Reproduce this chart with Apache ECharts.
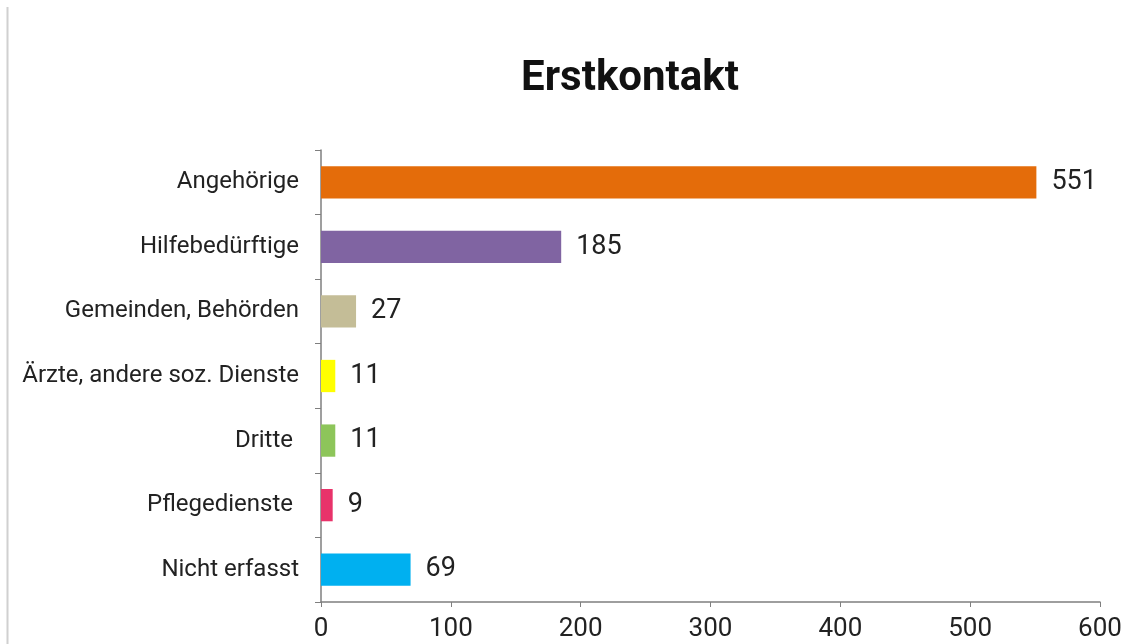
<!DOCTYPE html>
<html>
<head>
<meta charset="utf-8">
<script src="https://cdn.jsdelivr.net/npm/echarts@6/dist/echarts.min.js"></script>
<style>
  html, body { margin: 0; padding: 0; background: #ffffff; }
  #chart { width: 1139px; height: 644px; }
</style>
</head>
<body>
<div id="chart"></div>
<script>
// Who made the first contact
const categories = [
  'Angehörige',
  'Hilfebedürftige',
  'Gemeinden, Behörden',
  'Ärzte, andere soz. Dienste',
  'Dritte ',
  'Pflegedienste ',
  'Nicht erfasst'
];
const counts = [551, 185, 27, 11, 11, 9, 69];
const barColors = ['#E46C0A', '#8064A2', '#C4BD97', '#FFFF00', '#8DC55A', '#E8336A', '#00B0F0'];
const xTicks = [0, 100, 200, 300, 400, 500, 600];
const chartTitle = 'Erstkontakt';

const chart = echarts.init(document.getElementById('chart'));

chart.setOption({
  backgroundColor: '#ffffff',
  animation: false,
  grid: { left: 321, right: 39, top: 150, bottom: 42, containLabel: false },
  xAxis: {
    type: 'value',
    min: xTicks[0],
    max: xTicks[xTicks.length - 1],
    interval: 100,
    splitLine: { show: false },
    axisLine: { show: true, lineStyle: { color: '#7f7f7f', width: 1.5 } },
    axisTick: { show: true, length: 5, lineStyle: { color: '#7f7f7f' } },
    axisLabel: {
      margin: 14,
      fontFamily: 'Roboto',
      fontSize: 26,
      color: '#222222'
    }
  },
  yAxis: {
    type: 'category',
    inverse: true,
    data: categories,
    axisLine: { show: true, lineStyle: { color: '#7f7f7f', width: 1.5 } },
    axisTick: { show: true, length: 6, lineStyle: { color: '#7f7f7f' } },
    axisLabel: {
      margin: 22,
      fontFamily: 'Roboto',
      fontSize: 24,
      color: '#222222'
    }
  },
  series: [{
    type: 'bar',
    data: counts.map((v, i) => ({ value: v, itemStyle: { color: barColors[i] } })),
    barWidth: '50%',
    label: {
      show: true,
      position: 'right',
      distance: 15,
      fontFamily: 'Roboto',
      fontSize: 27,
      color: '#222222'
    }
  }],
  graphic: [
    {
      type: 'line',
      shape: { x1: 7.5, y1: 7, x2: 7.5, y2: 644 },
      style: { stroke: '#d0d0d0', lineWidth: 2 }
    },
    {
      type: 'text',
      x: 630,
      y: 79,
      style: {
        text: chartTitle,
        align: 'center',
        verticalAlign: 'middle',
        font: 'bold 42px Roboto',
        fill: '#111111'
      }
    }
  ]
});
</script>
</body>
</html>
